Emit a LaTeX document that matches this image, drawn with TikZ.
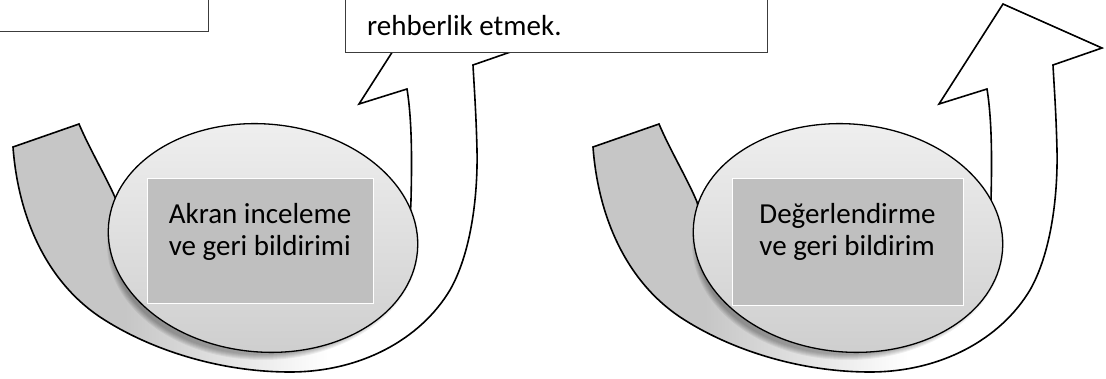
\documentclass[tikz,border=0pt]{standalone}
\usepackage{fontspec}
\setmainfont{Carlito}
\usetikzlibrary{calc,positioning}
\definecolor{tailgray}{HTML}{C6C6C6}
\definecolor{boxgray}{HTML}{BFBFBF}
\definecolor{edgegray}{HTML}{3C3C3C}
\pgfdeclarehorizontalshading{loopshade}{100bp}{color(0bp)=(tailgray); color(36bp)=(tailgray); color(56bp)=(white); color(100bp)=(white)}
\newcommand{\loopband}[1]{%
  \shade[xshift=#1, shading=loopshade, loopline]
    (79,124) -- (13,147)
    .. controls (18,215) and (45,280) .. (100,317)
    .. controls (150,350) and (220,372) .. (290,372)
    .. controls (360,372) and (420,340) .. (450,290)
    .. controls (470,255) and (478,200) .. (477,150)
    .. controls (476,110) and (474,85) .. (473,65)
    -- (522,48) -- (423,4) -- (359,104) -- (407,89)
    .. controls (412,120) and (412,160) .. (411,200)
    .. controls (408,300) and (360,340) .. (270,335)
    .. controls (190,332) and (135,280) .. (117,202)
    .. controls (108,180) and (90,150) .. cycle;
}
\newcommand{\loopshadow}[1]{%
  \foreach \k in {1,...,6}
    \fill[black, opacity=0.06] ($(#1)+(0,6)$) ellipse [x radius=150pt+\k pt, y radius=110pt+\k pt];
}

\begin{document}
\begin{tikzpicture}[x=1pt, y=-1pt]
\tikzset{loopline/.style={draw=black, line width=1.6pt},
  disc/.style={draw=black, line width=1.3pt, top color=gray!12, bottom color=gray!38},
  textbox/.style={draw=white, line width=0.8pt, fill=boxgray},
  looptext/.style={font=\fontsize{29}{32}\selectfont, align=left, inner sep=0pt},
  notebox/.style={draw=edgegray, line width=1.2pt, fill=white}}
\useasboundingbox (0,0) rectangle (1106,379);

% centres
\coordinate (c1) at (263,238);
\coordinate (c2) at (848,238);

% bands
\loopband{0pt}
\loopband{580pt}

% discs
\loopshadow{c1}
\shade[disc, rotate around={-5:(c1)}] (c1) ellipse [x radius=155pt, y radius=114pt];
\loopshadow{c2}
\shade[disc, rotate around={-5:(c2)}] (c2) ellipse [x radius=155pt, y radius=114pt];

% labels
\node[textbox, minimum width=226pt, minimum height=125pt] (akranbox) at (260,240.5) {};
\node[looptext, below=26pt of akranbox.north] (akrantext) {Akran inceleme\\ve geri bildirimi};
\node[textbox, minimum width=231pt, minimum height=127pt] (degerbox) at (847.5,241.5) {};
\node[looptext, below=26pt of degerbox.north] (degertext) {Değerlendirme\\ve geri bildirim};

% notes (cut at the top)
\node[notebox, anchor=south west, minimum width=210pt, minimum height=60pt] (noteone) at (-2,32) {};
\node[notebox, anchor=south west, minimum width=422pt, minimum height=80pt] (notetwo) at (345,53) {};
\node[looptext, anchor=base west] (notetext) at ($(notetwo.south west)+(22,-17)$) {rehberlik etmek.};
\end{tikzpicture}
\end{document}
